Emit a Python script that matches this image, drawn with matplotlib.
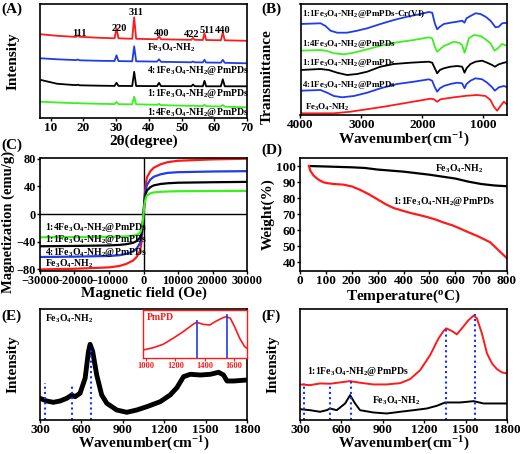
import matplotlib
matplotlib.use("Agg")
import matplotlib.pyplot as plt

W_PX, H_PX = 520, 454
DPI = 100

RED = "#ff1a1a"
BLUE = "#1f3ce6"
GREEN = "#3cf01e"
BLACK = "#000000"
DOT_BLUE = "#1030ff"

FE = "Fe$_3$O$_4$-NH$_2$"

# ---- (A) XRD ----
xrd_x = [7, 12, 17, 17.8, 18.3, 18.8, 25, 29.5, 30.1, 30.7, 34.9, 35.5, 36.1,
         42.5, 43.1, 43.7, 53.0, 53.5, 54.0, 56.5, 57.0, 57.5, 62.0, 62.6, 63.2, 70]
xrd_red = [84, 82.5, 81.5, 81.5, 83, 81.5, 80.5, 80, 90, 80, 79.5, 101, 79.5,
           79, 82, 79, 78.5, 80.5, 78.5, 78.3, 85, 78.3, 78, 86, 78, 77.5]
xrd_blue = [60, 59, 58.3, 58.2, 58.8, 58, 57.5, 57.3, 63, 57.2, 57, 72, 57,
            56.7, 59, 56.5, 56, 56.8, 56, 55.9, 58.5, 55.8, 55.6, 58.5, 55.5, 55]
xrd_black = [38.3, 34.5, 33.3, 33.2, 33.6, 33, 32.6, 32.4, 35.5, 32.4, 32.3, 46.5, 32.3,
             32.2, 35.5, 32.2, 32.1, 33.8, 32.1, 32, 37.5, 32, 32, 39, 32, 32]
xrd_green = [16.6, 15.8, 15.2, 15.1, 15.3, 15, 14.5, 14.2, 16.3, 14.1, 14, 21.6, 14,
             13.5, 14.5, 13.2, 12.4, 12.9, 12.3, 12.2, 13.5, 12.1, 11.8, 13.3, 11.6, 11]
hkl_labels = ["111", "220", "311", "400", "422", "511", "440"]
hkl_x = [18.9, 31.0, 36.1, 43.9, 53.1, 57.7, 62.6]
hkl_y = [84.5, 89.5, 106, 85, 84, 88, 88]

# ---- (B) FTIR ----
ir_cr_x = [4000, 3671, 3589, 3507, 3398, 3234, 3069, 2905, 2686, 2467, 2248, 2029, 1892,
           1837, 1794, 1755, 1711, 1646, 1536, 1427, 1345, 1306, 1273, 1208, 1126, 1044,
           961, 879, 797, 742, 688, 600]
ir_cr_y = [90.5, 91.2, 88.5, 83.8, 81.8, 81.8, 83.8, 86.2, 90.5, 94.5, 97.8, 100.5, 102.5,
           101.8, 91.2, 85.2, 87.8, 90.5, 91.8, 92.8, 93.8, 91.8, 96.2, 98.5, 101.2, 100.5,
           97.8, 93.8, 87.2, 87.8, 91.2, 91.8]
ir_14_x = [4000, 3671, 3562, 3452, 3288, 3124, 2905, 2686, 2412, 2138, 1892, 1837, 1794,
           1755, 1711, 1646, 1564, 1482, 1399, 1345, 1306, 1273, 1235, 1153, 1044, 961,
           879, 813, 759, 688, 600]
ir_14_y = [63.8, 64.5, 63.5, 61.2, 60.2, 61.8, 65.2, 68.8, 72.2, 74.5, 77.2, 76.2, 67.8,
           62.8, 65.2, 68.5, 70.5, 72.8, 71.8, 69.5, 61.8, 67.8, 76.2, 79.5, 78.5, 75.2,
           71.2, 63.8, 66.2, 70.5, 68.5]
ir_11_x = [4000, 3671, 3535, 3398, 3234, 3069, 2905, 2686, 2467, 2193, 1892, 1837, 1794,
           1755, 1711, 1646, 1536, 1427, 1345, 1306, 1273, 1208, 1126, 1016, 934, 852,
           808, 742, 660, 600]
ir_11_y = [44.5, 45.5, 44.5, 41.8, 39.5, 40.5, 42.8, 47.8, 50.5, 51.8, 52.8, 51.8, 46.2,
           41.2, 44.5, 46.2, 47.8, 48.5, 47.8, 41.8, 46.2, 50.5, 52.8, 53.8, 51.8, 49.5,
           47.8, 50.2, 51.8, 52.5]
ir_41_x = [4000, 3671, 3562, 3452, 3316, 3124, 2905, 2686, 2412, 2138, 1892, 1837, 1794,
           1755, 1711, 1646, 1536, 1427, 1345, 1306, 1273, 1208, 1126, 1016, 934, 852,
           808, 742, 660, 600]
ir_41_y = [23.8, 24.5, 21.8, 18.5, 17.2, 18.5, 21.8, 26.2, 30.5, 32.8, 35.2, 33.8, 27.2,
           22.8, 26.2, 28.5, 30.5, 31.8, 31.2, 26.2, 30.5, 33.8, 36.2, 35.2, 31.8, 27.2,
           23.8, 27.2, 28.5, 27.2]
ir_fe_x = [4000, 3452, 3179, 2631, 2084, 1865, 1810, 1755, 1700, 1482, 1262, 1098, 961,
           879, 824, 770, 715, 660, 600]
ir_fe_y = [1.2, 1.2, 2.8, 7.8, 13.5, 15.8, 15.2, 12.8, 15.2, 17.2, 18.8, 19.5, 18.5,
           14.5, 7.8, 3.8, 8.5, 12.8, 9.5]

# ---- (C) VSM ----
vsm_h = [-30000, -20000, -10000, -7000, -5000, -3000, -2000, -1000, -700, -300, 0,
         300, 700, 1000, 2000, 3000, 5000, 7000, 10000, 20000, 30000]
vsm_red = [-80, -79, -77, -75, -72, -67, -62, -53, -45, -25, 0,
           25, 45, 53, 62, 67, 72, 75, 77, 79, 80]
vsm_blue = [-62, -61.5, -60.5, -59.5, -57.5, -54, -50, -42, -36, -22, 0,
            22, 36, 42, 50, 54, 57.5, 59.5, 60.5, 61.5, 62]
vsm_black = [-46.5, -46, -45.3, -44.5, -43.5, -41.5, -39, -34, -30, -18, 0,
             18, 30, 34, 39, 41.5, 43.5, 44.5, 45.3, 46, 46.5]
vsm_green = [-33.5, -33.3, -33, -32.6, -32.2, -31.3, -30, -27, -24, -15, 0,
             15, 24, 27, 30, 31.3, 32.2, 32.6, 33, 33.3, 33.5]

# ---- (D) TGA ----
tga_fe_t = [35, 100, 200, 250, 300, 400, 500, 600, 650, 700, 750, 800]
tga_fe_w = [100, 99.7, 99.2, 98.8, 97.8, 96.5, 94.6, 92.2, 90.3, 88.8, 87.9, 87.4]
tga_pm_t = [35, 40, 52, 65, 77, 90, 103, 130, 168, 200, 232, 265, 297, 330, 361, 400,
            426, 460, 490, 525, 555, 590, 619, 650, 684, 710, 735, 748, 774, 800]
tga_pm_w = [100, 97, 94.2, 92.3, 91, 89.9, 89.4, 88.8, 88.4, 87.3, 85.2, 82.5, 79.5,
            76.3, 73.9, 72, 70.8, 69.5, 68.3, 66.6, 64.8, 63, 61, 58.8, 56.5, 54.5,
            52.5, 50.5, 46.5, 42.5]

# ---- (E) Raman Fe3O4-NH2 + inset PmPD ----
ram_e_x = [300, 348, 397, 445, 494, 530, 554, 590, 627, 651, 663, 682, 711, 747, 784,
           856, 929, 1001, 1074, 1171, 1243, 1292, 1340, 1389, 1461, 1534, 1594, 1630,
           1655, 1703, 1800]
ram_e_y = [21.7, 19, 17.7, 19, 21.7, 25, 23.3, 26.7, 41.7, 68.3, 75.7, 68.3, 45, 25,
           16.7, 10, 7.7, 10, 13.3, 18.3, 25, 32.3, 43.3, 45.7, 45, 45.7, 47.7, 45,
           39, 39, 40]
ram_e_lines = [336, 534, 667]
ram_e_tops = [36.7, 35.7, 71.7]
pmpd_x = [980, 1048, 1116, 1184, 1253, 1321, 1344, 1389, 1435, 1480, 1526, 1549,
          1576, 1605, 1640, 1674, 1690]
pmpd_y = [7.7, 10, 13.4, 19.4, 26, 33.4, 35.4, 33.4, 32.7, 36.7, 40, 41, 39.4, 31,
          19.4, 11, 9.4]
pmpd_lines = [1345, 1550]
pmpd_tops = [37.5, 44]

# ---- (F) Raman comparison ----
ram_pm_x = [300, 373, 445, 518, 590, 663, 735, 832, 929, 1026, 1098, 1171, 1243, 1304,
            1340, 1360, 1401, 1437, 1473, 1522, 1558, 1582, 1618, 1655, 1691, 1727,
            1764, 1800]
ram_pm_y = [35, 34.3, 36, 35.7, 37, 38.3, 36.7, 35, 35, 36.3, 40.3, 49.3, 64.3, 81,
            88.3, 91, 88.3, 85, 91, 99.3, 103.7, 101, 86, 66, 56, 50.3, 47, 46]
ram_fe_x = [300, 373, 445, 494, 518, 566, 627, 663, 699, 735, 832, 929, 1026, 1123,
            1219, 1292, 1352, 1461, 1558, 1630, 1800]
ram_fe_y = [10.3, 9.3, 7.7, 9.3, 11, 9.3, 16, 24.3, 16, 9.3, 7, 6, 7.7, 9.3, 11, 13.7,
            17, 17, 18.3, 16, 16]
ram_f_lines = [331, 520, 672, 1356, 1569]
ram_f_tops = [36, 36, 39, 91, 105]


def rect(left, top, right, bottom):
    """pixel box -> figure fraction rect"""
    return [left / W_PX, 1 - bottom / H_PX, (right - left) / W_PX, (bottom - top) / H_PX]


def style_axes(ax, ticksize=9.5):
    for s in ax.spines.values():
        s.set_linewidth(1.2)
    ax.tick_params(direction="out", length=2, width=1, labelsize=ticksize, pad=1)


def panel_a(fig):
    ax = fig.add_axes(rect(40, 4, 247, 118.3))
    style_axes(ax)
    ax.plot(xrd_x, xrd_red, color=RED, lw=1.3)
    ax.plot(xrd_x, xrd_blue, color=BLUE, lw=1.3)
    ax.plot(xrd_x, xrd_black, color=BLACK, lw=1.3)
    ax.plot(xrd_x, xrd_green, color=GREEN, lw=1.3)
    for lab, x, y in zip(hkl_labels, hkl_x, hkl_y):
        ax.text(x, y, lab, ha="center", va="center", fontsize=7.5)
    ax.text(39.3, 70.5, FE, fontsize=7, va="center")
    ax.text(39.3, 47.6, "4:1" + FE + "@PmPDs", fontsize=7, va="center")
    ax.text(39.3, 25, "1:1" + FE + "@PmPDs", fontsize=7, va="center")
    ax.text(39.3, 6, "1:4" + FE + "@PmPDs", fontsize=7, va="center")
    ax.set_xlim(6.7, 70)
    ax.set_ylim(0, 114.3)
    ax.set_xticks([10, 20, 30, 40, 50, 60, 70])
    ax.set_yticks([])
    ax.set_xlabel("2θ(degree)", fontsize=11, labelpad=0)
    ax.set_ylabel("Intensity", fontsize=11, labelpad=15)


def panel_b(fig):
    ax = fig.add_axes(rect(300.5, 4, 507.5, 114.5))
    style_axes(ax)
    ax.plot(ir_cr_x, ir_cr_y, color=BLUE, lw=1.3)
    ax.plot(ir_14_x, ir_14_y, color=GREEN, lw=1.3)
    ax.plot(ir_11_x, ir_11_y, color=BLACK, lw=1.3)
    ax.plot(ir_41_x, ir_41_y, color=BLUE, lw=1.3)
    ax.plot(ir_fe_x, ir_fe_y, color=RED, lw=1.3)
    ax.text(3975, 101, "1:1" + FE + "@PmPDs-Cr(VI)", fontsize=6.5, va="center")
    ax.text(3975, 71, "1:4" + FE + "@PmPDs", fontsize=6.5, va="center")
    ax.text(3975, 51.8, "1:1" + FE + "@PmPDs", fontsize=6.5, va="center")
    ax.text(3975, 29.5, "4:1" + FE + "@PmPDs", fontsize=6.5, va="center")
    ax.text(3918, 7.2, FE, fontsize=6.5, va="center")
    ax.set_xlim(4000, 600)
    ax.set_ylim(0, 110.5)
    ax.set_xticks([4000, 3000, 2000, 1000])
    ax.set_yticks([])
    ax.set_xlabel("Wavenumber(cm$^{-1}$)", fontsize=11, labelpad=0)
    ax.set_ylabel("Transmittance", fontsize=11)
    ax.yaxis.set_label_coords(-0.13, 0.34)


def panel_c(fig):
    ax = fig.add_axes(rect(40, 158, 247, 270.5))
    style_axes(ax, ticksize=8.8)
    ax.axhline(0, color=BLACK, lw=1)
    ax.axvline(0, color=BLACK, lw=1)
    ax.plot(vsm_h, vsm_red, color=RED, lw=1.6)
    ax.plot(vsm_h, vsm_blue, color=BLUE, lw=1.6)
    ax.plot(vsm_h, vsm_black, color=BLACK, lw=1.6)
    ax.plot(vsm_h, vsm_green, color=GREEN, lw=1.6)
    ax.text(-28600, -20, "1:4" + FE + "@PmPDs", fontsize=7, va="center")
    ax.text(-28600, -37, "1:1" + FE + "@PmPDs", fontsize=7, va="center")
    ax.text(-28600, -55, "4:1" + FE + "@PmPDs", fontsize=7, va="center")
    ax.text(-28600, -72, FE, fontsize=7, va="center")
    ax.set_xlim(-30000, 30000)
    ax.set_ylim(-81.5, 81)
    ax.set_xticks([-30000, -20000, -10000, 0, 10000, 20000, 30000])
    ax.set_yticks([-80, -40, 0, 40, 80])
    ax.set_xlabel("Magnetic field (Oe)", fontsize=11, labelpad=0)
    ax.set_ylabel("Magnetization (emu/g)", fontsize=10.5)
    ax.yaxis.set_label_coords(-0.122, 0.43)


def panel_d(fig):
    ax = fig.add_axes(rect(300, 158, 507, 271))
    style_axes(ax)
    ax.plot(tga_fe_t, tga_fe_w, color=BLACK, lw=1.6)
    ax.plot(tga_pm_t, tga_pm_w, color=RED, lw=1.6)
    ax.text(522, 98.3, FE, fontsize=7, va="center")
    ax.text(361, 77.6, "1:1" + FE + "@PmPDs", fontsize=7, va="center")
    ax.set_xlim(0, 800)
    ax.set_ylim(34.6, 105)
    ax.set_xticks(range(0, 801, 100))
    ax.set_yticks(range(40, 101, 10))
    ax.set_xlabel("Temperature($^o$C)", fontsize=11, labelpad=0)
    ax.set_ylabel("Weight(%)", fontsize=11, labelpad=1)


def panel_e(fig):
    ax = fig.add_axes(rect(40, 309, 247, 420))
    style_axes(ax)
    ax.plot(ram_e_x, ram_e_y, color=BLACK, lw=3.5)
    ax.vlines(ram_e_lines, 0, ram_e_tops, colors=DOT_BLUE, linestyles=(0, (1, 1.5)), lw=1.5)
    ax.text(336, 101, FE, fontsize=7, va="center")
    ax.set_xlim(300, 1800)
    ax.set_ylim(0, 111)
    ax.set_xticks(range(300, 1801, 300))
    ax.set_yticks([])
    ax.set_xlabel("Wavenumber(cm$^{-1}$)", fontsize=11, labelpad=-1)
    ax.set_ylabel("Intensity", fontsize=11, labelpad=15)

    ins = fig.add_axes(rect(143.3, 310, 247, 357.7))
    for s in ins.spines.values():
        s.set_color(RED)
        s.set_linewidth(1)
    ins.plot(pmpd_x, pmpd_y, color=RED, lw=1.2)
    ins.vlines(pmpd_lines, 0, pmpd_tops, colors=BLUE, lw=1.2)
    ins.text(1003, 40, "PmPD", color=RED, fontsize=7, va="center")
    ins.set_xlim(980, 1690)
    ins.set_ylim(0, 47.7)
    ins.set_xticks([1000, 1200, 1400, 1600])
    ins.set_yticks([])
    ins.tick_params(direction="out", length=2, color=RED, labelcolor=RED,
                    labelsize=6, pad=1)


def panel_f(fig):
    ax = fig.add_axes(rect(300, 309, 507, 419.5))
    style_axes(ax)
    ax.plot(ram_pm_x, ram_pm_y, color=RED, lw=1.4)
    ax.plot(ram_fe_x, ram_fe_y, color=BLACK, lw=1.4)
    ax.vlines(ram_f_lines, 0, ram_f_tops, colors=DOT_BLUE, linestyles=(0, (1, 1.5)), lw=1.5)
    ax.text(348, 48.3, "1:1" + FE + "@PmPDs", fontsize=7, va="center")
    ax.text(820, 18.3, FE, fontsize=7, va="center")
    ax.set_xlim(300, 1800)
    ax.set_ylim(0, 110.3)
    ax.set_xticks(range(300, 1801, 300))
    ax.set_yticks([])
    ax.set_xlabel("Wavenumber(cm$^{-1}$)", fontsize=11, labelpad=-1)
    ax.set_ylabel("Intensity", fontsize=11, labelpad=15)


def main():
    plt.rcParams["font.family"] = "Liberation Serif"
    plt.rcParams["font.weight"] = "bold"
    plt.rcParams["axes.labelweight"] = "bold"
    plt.rcParams["mathtext.fontset"] = "custom"
    plt.rcParams["mathtext.rm"] = "Liberation Serif:bold"
    plt.rcParams["mathtext.it"] = "Liberation Serif:bold"
    plt.rcParams["mathtext.bf"] = "Liberation Serif:bold"
    plt.rcParams["mathtext.default"] = "rm"

    fig = plt.figure(figsize=(W_PX / DPI, H_PX / DPI), dpi=DPI)
    fig.patch.set_facecolor("white")

    panel_a(fig)
    panel_b(fig)
    panel_c(fig)
    panel_d(fig)
    panel_e(fig)
    panel_f(fig)

    for lab, px, py in [("(A)", 1, 9), ("(B)", 261, 9), ("(C)", 1, 145),
                        ("(D)", 261, 150), ("(E)", 1, 316), ("(F)", 261, 316)]:
        fig.text(px / W_PX, 1 - py / H_PX, lab, fontsize=11, ha="left", va="center")

    fig.savefig("out.png", dpi=DPI, facecolor="white")
    plt.close(fig)


if __name__ == "__main__":
    main()
